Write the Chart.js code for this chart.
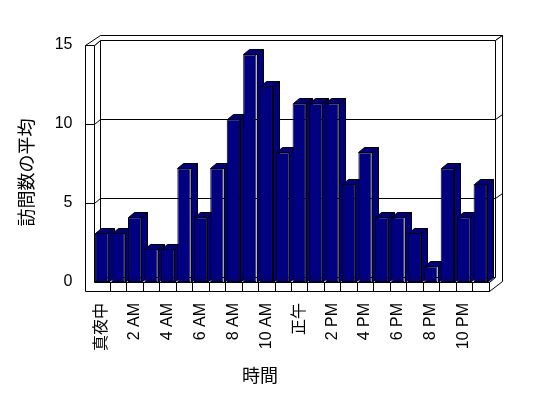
<!DOCTYPE html>
<html>
<head>
<meta charset="utf-8">
<script src="https://cdn.jsdelivr.net/npm/chart.js@4.4.1/dist/chart.umd.min.js"></script>
<style>
  html, body { margin: 0; padding: 0; background: #fff; }
</style>
</head>
<body>
<canvas id="visits-graph" width="548" height="398"></canvas>
<script>
const hourLabels = [
  "真夜中", "1 AM", "2 AM", "3 AM", "4 AM", "5 AM", "6 AM", "7 AM",
  "8 AM", "9 AM", "10 AM", "11 AM", "正午", "1 PM", "2 PM", "3 PM",
  "4 PM", "5 PM", "6 PM", "7 PM", "8 PM", "9 PM", "10 PM", "11 PM",
];
const averageVisits = [
  3.1, 3.1, 4.1, 2.1, 2.1, 7.2, 4.1, 7.2, 10.3, 14.4, 12.4, 8.2,
  11.3, 11.3, 11.3, 6.2, 8.2, 4.1, 4.1, 3.1, 1.0, 7.2, 4.1, 6.2,
];
const yTicks = [0, 5, 10, 15];

const BAR_COLOR = "#000080";
const latinFont = "'Liberation Sans', 'Noto Sans CJK JP', sans-serif";
const cjkFont = "'Noto Sans CJK JP', sans-serif";

// depth of the plot box (front plane -> back wall), bars, wall thickness
const DX = 6.5, DY = -5;
const BDX = 6, BDY = -5;
const TH = 9;

const px = (v) => Math.round(v) + 0.5;

function poly(ctx, pts, fill) {
  ctx.beginPath();
  pts.forEach(([x, y], i) => (i ? ctx.lineTo(px(x), px(y)) : ctx.moveTo(px(x), px(y))));
  ctx.closePath();
  ctx.fillStyle = fill;
  ctx.fill();
  ctx.stroke();
}

function line(ctx, x1, y1, x2, y2) {
  ctx.beginPath();
  ctx.moveTo(px(x1), px(y1));
  ctx.lineTo(px(x2), px(y2));
  ctx.stroke();
}

// Excel-like 3D box and the depth faces of the columns
const box3d = {
  id: "box3d",
  beforeDatasetsDraw(chart) {
    const { ctx, chartArea: a, scales } = chart;
    const y = scales.y;
    const L = a.left, R = a.right;
    const T = y.getPixelForValue(yTicks[yTicks.length - 1]);
    const B = y.getPixelForValue(0);

    ctx.save();
    ctx.strokeStyle = "#000";
    ctx.lineWidth = 1;

    // back wall, left wall inner face, floor top
    poly(ctx, [[L + DX, T + DY], [R + DX, T + DY], [R + DX, B + DY], [L + DX, B + DY]], "#fff");
    poly(ctx, [[L, T], [L + DX, T + DY], [L + DX, B + DY], [L, B]], "#fff");
    poly(ctx, [[L, B], [R, B], [R + DX, B + DY], [L + DX, B + DY]], "#fff");

    // top edge of the walls
    poly(ctx, [[L - TH, T], [L, T], [L + DX, T + DY], [R + DX, T + DY],
      [R + 2 * DX, T + 2 * DY], [L + DX, T + 2 * DY]], "#fff");

    // right edge of back wall + floor
    poly(ctx, [[R + DX, T + DY], [R + 2 * DX, T + 2 * DY], [R + 2 * DX, B + TH + 2 * DY],
      [R, B + TH], [R, B], [R + DX, B + DY]], "#fff");

    // front faces of left wall and floor
    poly(ctx, [[L - TH, T], [L, T], [L, B], [R, B], [R, B + TH], [L - TH, B + TH]], "#fff");

    // gridlines
    yTicks.slice(1, -1).forEach((v) => {
      const gy = y.getPixelForValue(v);
      line(ctx, L - TH, gy, L, gy);
      line(ctx, L, gy, L + DX, gy + DY);
      line(ctx, L + DX, gy + DY, R + DX, gy + DY);
      line(ctx, R + DX, gy + DY, R + 2 * DX, gy + 2 * DY);
    });

    // category dividers on the floor edge
    const xs = scales.x;
    const step = (R - L) / hourLabels.length;
    for (let i = 1; i < hourLabels.length; i++) {
      const gx = xs.getPixelForValue(i) - step / 2;
      line(ctx, gx, B, gx, B + TH);
    }

    // column sides then tops (fronts are drawn by chart.js on top)
    const bars = chart.getDatasetMeta(0).data;
    ctx.fillStyle = BAR_COLOR;
    bars.forEach((b) => {
      const r = b.x + b.width / 2;
      poly(ctx, [[r, b.y], [r + BDX, b.y + BDY], [r + BDX, b.base + BDY], [r, b.base]], BAR_COLOR);
    });
    bars.forEach((b) => {
      const l = b.x - b.width / 2, r = b.x + b.width / 2;
      poly(ctx, [[l, b.y], [r, b.y], [r + BDX, b.y + BDY], [l + BDX, b.y + BDY]], BAR_COLOR);
    });

    ctx.restore();
  },
};

const ctx = document.getElementById("visits-graph");

new Chart(ctx, {
  type: "bar",
  data: {
    labels: hourLabels,
    datasets: [
      {
        data: averageVisits,
        backgroundColor: BAR_COLOR,
        borderColor: "#000",
        borderWidth: 1,
        borderSkipped: false,
        categoryPercentage: 1,
        barPercentage: 0.81,
      },
    ],
  },
  options: {
    responsive: false,
    animation: false,
    layout: { padding: { top: 45, right: 28, bottom: 0, left: 0 } },
    plugins: {
      legend: { display: false },
      tooltip: { enabled: false },
      title: {
        display: true,
        text: "時間",
        position: "bottom",
        fullSize: true,
        color: "#000",
        font: { family: cjkFont, size: 18, weight: "normal" },
        padding: { top: 0, bottom: 12 },
      },
    },
    scales: {
      x: {
        offset: true,
        grid: { display: false, drawTicks: false },
        border: { display: false },
        ticks: {
          autoSkip: false,
          minRotation: 90,
          maxRotation: 90,
          padding: 21,
          color: "#000",
          font: { family: latinFont, size: 16 },
          callback(v, i) {
            return i % 2 ? "" : this.getLabelForValue(v);
          },
        },
        afterFit(s) {
          s.height = 82.4;
        },
      },
      y: {
        min: 0,
        max: 15,
        grid: { display: false, drawTicks: false },
        border: { display: false },
        ticks: {
          stepSize: 5,
          padding: 21,
          color: "#000",
          font: { family: latinFont, size: 16 },
        },
        title: {
          display: true,
          text: "訪問数の平均　",
          color: "#000",
          font: { family: cjkFont, size: 18, weight: "normal" },
          padding: { top: 15, bottom: 0 },
        },
        afterFit(s) {
          s.width = 93.5;
        },
      },
      yRight: {
        position: "right",
        grid: { display: false, drawTicks: false },
        border: { display: false },
        ticks: { display: false },
        afterFit(s) {
          s.width = 31.5;
        },
      },
    },
  },
  plugins: [box3d],
});
</script>
</body>
</html>
